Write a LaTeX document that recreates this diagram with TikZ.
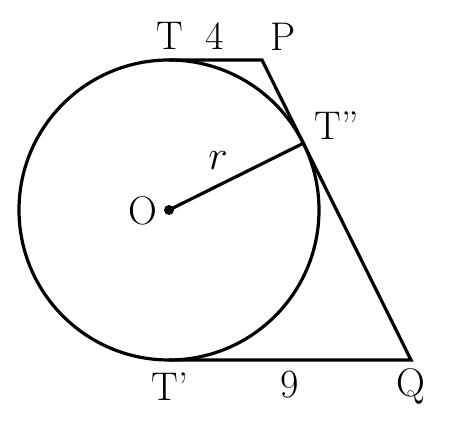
\documentclass[tikz,border=0pt]{standalone}
\usepackage{fontspec}
\begin{document}
\begin{tikzpicture}[x=0.5pt,y=-0.5pt,
  lbl/.style={font=\fontsize{20}{24}\selectfont, inner sep=0pt, anchor=base},
  ln/.style={line width=1.6pt, line join=miter}]
\useasboundingbox (0,0) rectangle (451,431);
\coordinate (O) at (169,210);
\coordinate (T) at (169,60);
\coordinate (P) at (262,60);
\coordinate (Q) at (411,360);
\coordinate (Tp) at (169,360);
\coordinate (Tpp) at (303.3,143.3);
\draw[ln] (O) circle[radius=150];
\draw[ln] (T) -- (P) -- (Q) -- (Tp);
\draw[ln] (O) -- (Tpp);
\fill (O) circle[radius=5];
\node[lbl] (lT) at (170,50) {T};
\node[lbl] (l4) at (215,50) {4};
\node[lbl] (lP) at (283,51) {P};
\node[lbl, anchor=base west] (lTpp) at (314,140) {T''};
\node[lbl] (lr) at (218,170) {$r$};
\node[lbl] (lO) at (143,225) {O};
\node[lbl] (lTp) at (170,401) {T'};
\node[lbl] (l9) at (290,398) {9};
\node[lbl] (lQ) at (411,397) {Q};
\end{tikzpicture}
\end{document}
